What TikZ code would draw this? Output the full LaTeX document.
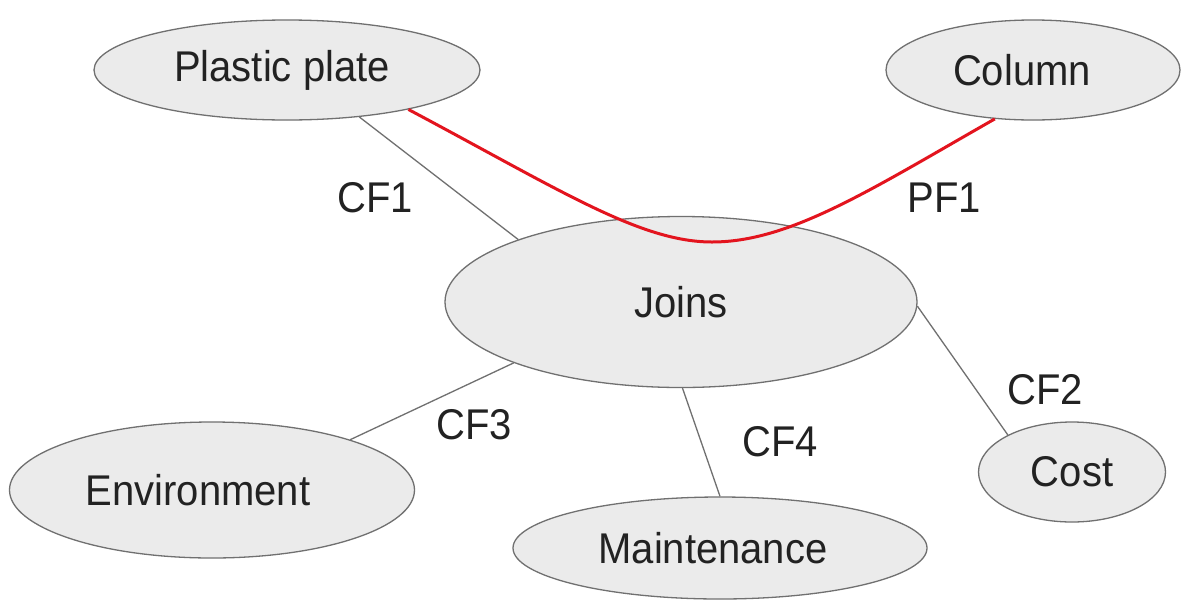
\documentclass[tikz,border=0pt]{standalone}
\usepackage{fontspec}
\setmainfont{Liberation Sans}[FakeStretch=0.93]
\usetikzlibrary{shapes.geometric}
\definecolor{ellfill}{HTML}{EBEBEB}
\definecolor{elldraw}{HTML}{707070}
\definecolor{txt}{HTML}{222222}
\definecolor{redline}{HTML}{E3141E}
\tikzset{
  ell/.style={ellipse, draw=elldraw, fill=ellfill, line width=1.3pt, inner sep=0pt, text=txt,
    font=\fontsize{43}{47}\selectfont},
  conn/.style={draw=elldraw, line width=1.3pt},
  lbl/.style={text=txt, font=\fontsize{43}{47}\selectfont, inner sep=0pt},
  pf/.style={draw=redline, line width=3pt}
}
\begin{document}
\begin{tikzpicture}[x=1pt,y=-1pt]
\useasboundingbox (0,0) rectangle (1190,600);
\fill[white] (0,0) rectangle (1190,600);
\node[ell, minimum width=386pt, minimum height=100pt] (pp) at (287,70) {\hspace*{-10pt}Plastic plate};
\node[ell, minimum width=294pt, minimum height=100pt] (col) at (1033,70) {\hspace*{-22pt}Column};
\node[ell, minimum width=472pt, minimum height=171pt] (joins) at (681,302) {Joins};
\node[ell, minimum width=405pt, minimum height=136pt] (env) at (212,490) {\hspace*{-28pt}Environment};
\node[ell, minimum width=414pt, minimum height=102pt] (maint) at (720,548) {\hspace*{-14pt}Maintenance};
\node[ell, minimum width=187pt, minimum height=100pt] (cost) at (1072,472) {Cost};
\draw[conn] (pp.-33) -- (joins.159);
\draw[conn] (joins.-1) -- (cost.150);
\draw[conn] (joins.200) -- (env.20);
\draw[conn] (joins.-89) -- (maint.90);
\coordinate (pfmid) at (712,242);
\draw[pf] (pp.-18) .. controls (560,190) and (640,242) .. (pfmid) .. controls (790,242) and (870,190) .. (col.232);
\node[lbl] (cf1) at (375,198) {CF1};
\node[lbl] (pf1) at (944,198) {PF1};
\node[lbl] (cf2) at (1045,390) {CF2};
\node[lbl] (cf3) at (474,425) {CF3};
\node[lbl] (cf4) at (780,442) {CF4};
\end{tikzpicture}
\end{document}
